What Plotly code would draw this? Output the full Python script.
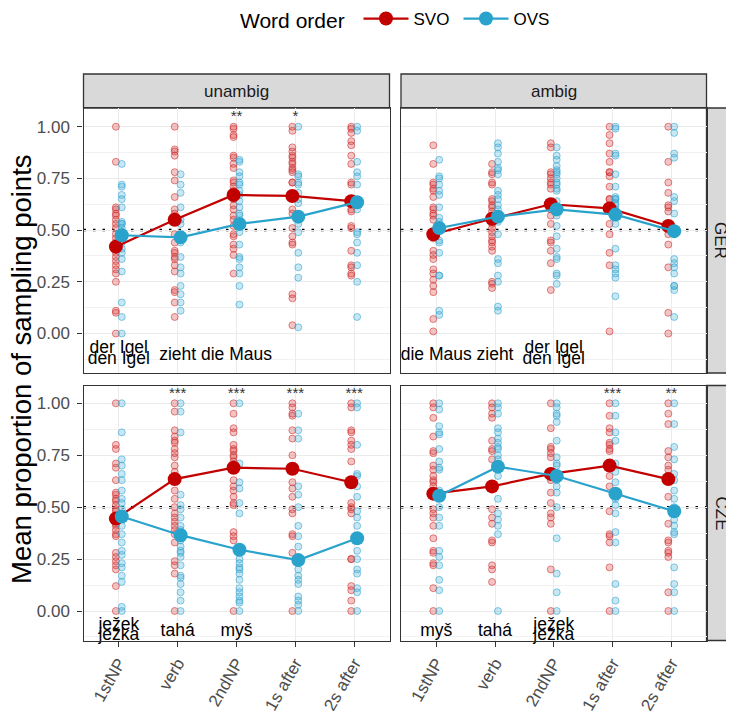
import plotly.graph_objects as go

# The page body has an 8px margin, so the figure is drawn 8px in from the window corner.
OFF = 8
FW, FH = 734 - OFF, 719 - OFF

categories = ["1stNP", "verb", "2ndNP", "1s after", "2s after"]
x_pos = [1, 2, 3, 4, 5]
orders = ["SVO", "OVS"]

# ---------- individual points (per category) ----------
ger_un_svo = [
    [1.0, 0.83, 0.61, 0.60, 0.58, 0.57, 0.55, 0.53, 0.51, 0.48, 0.46, 0.44, 0.39, 0.37, 0.35, 0.33, 0.31, 0.29, 0.25, 0.11, 0.10, 0.0],
    [1.0, 0.89, 0.88, 0.86, 0.78, 0.74, 0.66, 0.60, 0.58, 0.55, 0.48, 0.44, 0.40, 0.39, 0.37, 0.36, 0.33, 0.30, 0.21, 0.20, 0.15, 0.08],
    [1.0, 0.99, 0.96, 0.95, 0.86, 0.85, 0.82, 0.80, 0.74, 0.73, 0.71, 0.69, 0.65, 0.62, 0.60, 0.57, 0.55, 0.52, 0.48, 0.47, 0.43, 0.41, 0.38, 0.29],
    [1.0, 0.98, 0.90, 0.88, 0.86, 0.85, 0.83, 0.82, 0.80, 0.79, 0.78, 0.73, 0.73, 0.66, 0.60, 0.58, 0.51, 0.47, 0.44, 0.43, 0.19, 0.17, 0.04],
    [1.0, 0.99, 0.97, 0.93, 0.91, 0.86, 0.82, 0.73, 0.72, 0.63, 0.60, 0.59, 0.52, 0.51, 0.40, 0.33, 0.32, 0.29, 0.28],
]
ger_un_ovs = [
    [0.82, 0.72, 0.71, 0.67, 0.65, 0.61, 0.54, 0.53, 0.53, 0.51, 0.49, 0.44, 0.41, 0.39, 0.36, 0.30, 0.15, 0.08, 0.0],
    [0.77, 0.72, 0.68, 0.61, 0.55, 0.53, 0.46, 0.44, 0.37, 0.32, 0.29, 0.23, 0.19, 0.15, 0.11],
    [0.84, 0.83, 0.78, 0.76, 0.73, 0.72, 0.69, 0.67, 0.64, 0.61, 0.58, 0.57, 0.53, 0.49, 0.43, 0.37, 0.36, 0.32, 0.29, 0.23, 0.14],
    [1.0, 0.77, 0.76, 0.73, 0.72, 0.68, 0.65, 0.63, 0.57, 0.53, 0.49, 0.39, 0.32, 0.27, 0.03],
    [1.0, 0.98, 0.83, 0.78, 0.76, 0.72, 0.62, 0.60, 0.49, 0.48, 0.44, 0.39, 0.33, 0.25, 0.08],
]
ger_am_svo = [
    [0.91, 0.82, 0.73, 0.72, 0.70, 0.69, 0.66, 0.61, 0.60, 0.58, 0.57, 0.55, 0.48, 0.46, 0.40, 0.38, 0.36, 0.31, 0.29, 0.26, 0.23, 0.20, 0.07, 0.01],
    [0.82, 0.78, 0.77, 0.73, 0.72, 0.65, 0.64, 0.62, 0.61, 0.59, 0.57, 0.56, 0.54, 0.53, 0.51, 0.49, 0.47, 0.45, 0.44, 0.42, 0.40, 0.25, 0.24, 0.22],
    [0.92, 0.90, 0.78, 0.77, 0.75, 0.73, 0.72, 0.70, 0.62, 0.60, 0.57, 0.53, 0.45, 0.44, 0.40, 0.34, 0.21],
    [1.0, 0.96, 0.92, 0.87, 0.83, 0.78, 0.78, 0.76, 0.71, 0.65, 0.65, 0.61, 0.53, 0.48, 0.39, 0.33, 0.01],
    [1.0, 0.83, 0.73, 0.68, 0.62, 0.61, 0.59, 0.52, 0.48, 0.43, 0.32, 0.10, 0.0],
]
ger_am_ovs = [
    [0.84, 0.76, 0.75, 0.72, 0.69, 0.67, 0.61, 0.56, 0.54, 0.52, 0.45, 0.44, 0.39, 0.28, 0.28, 0.11, 0.09],
    [0.92, 0.90, 0.87, 0.83, 0.80, 0.79, 0.77, 0.69, 0.67, 0.65, 0.62, 0.60, 0.57, 0.54, 0.48, 0.36, 0.34, 0.28, 0.25, 0.13, 0.11],
    [0.90, 0.86, 0.84, 0.81, 0.79, 0.78, 0.77, 0.75, 0.73, 0.72, 0.70, 0.69, 0.64, 0.60, 0.57, 0.52, 0.47, 0.41, 0.37, 0.36, 0.29, 0.28, 0.24],
    [1.0, 0.99, 0.87, 0.86, 0.77, 0.71, 0.66, 0.65, 0.65, 0.63, 0.62, 0.60, 0.57, 0.53, 0.41, 0.33, 0.31, 0.29, 0.27, 0.18],
    [1.0, 0.97, 0.87, 0.85, 0.66, 0.64, 0.58, 0.50, 0.48, 0.36, 0.34, 0.32, 0.29, 0.23, 0.23, 0.21, 0.08],
]
cze_un_svo = [
    [1.0, 0.80, 0.78, 0.71, 0.69, 0.63, 0.57, 0.56, 0.54, 0.53, 0.51, 0.49, 0.48, 0.45, 0.42, 0.41, 0.39, 0.37, 0.36, 0.28, 0.26, 0.24, 0.22, 0.20, 0.12, 0.0],
    [1.0, 0.96, 0.87, 0.84, 0.82, 0.81, 0.78, 0.76, 0.74, 0.70, 0.67, 0.64, 0.58, 0.54, 0.50, 0.47, 0.45, 0.43, 0.41, 0.39, 0.37, 0.33, 0.24, 0.22, 0.18, 0.0],
    [1.0, 0.95, 0.88, 0.86, 0.80, 0.78, 0.77, 0.75, 0.74, 0.72, 0.69, 0.63, 0.60, 0.58, 0.55, 0.52, 0.51, 0.38, 0.36, 0.34, 0.0],
    [1.0, 0.98, 0.95, 0.94, 0.87, 0.83, 0.75, 0.68, 0.62, 0.59, 0.55, 0.49, 0.47, 0.37, 0.36, 0.28, 0.0],
    [1.0, 0.98, 0.87, 0.86, 0.82, 0.80, 0.78, 0.72, 0.62, 0.52, 0.50, 0.49, 0.47, 0.25, 0.25, 0.12, 0.10, 0.05, 0.0],
]
cze_un_ovs = [
    [1.0, 0.86, 0.73, 0.70, 0.66, 0.63, 0.58, 0.54, 0.52, 0.49, 0.45, 0.41, 0.37, 0.33, 0.29, 0.27, 0.23, 0.21, 0.17, 0.14, 0.02, 0.0],
    [1.0, 0.96, 0.86, 0.56, 0.51, 0.49, 0.45, 0.41, 0.39, 0.37, 0.34, 0.31, 0.29, 0.28, 0.26, 0.22, 0.17, 0.16, 0.13, 0.09, 0.05, 0.0],
    [1.0, 0.71, 0.62, 0.59, 0.52, 0.47, 0.29, 0.25, 0.23, 0.21, 0.20, 0.18, 0.15, 0.11, 0.09, 0.07, 0.05, 0.04, 0.0],
    [0.95, 0.87, 0.83, 0.60, 0.56, 0.50, 0.41, 0.36, 0.31, 0.25, 0.20, 0.17, 0.15, 0.13, 0.07, 0.05, 0.03, 0.0],
    [1.0, 0.98, 0.80, 0.66, 0.65, 0.60, 0.55, 0.48, 0.45, 0.41, 0.35, 0.29, 0.25, 0.20, 0.18, 0.11, 0.09, 0.0],
]
cze_am_svo = [
    [1.0, 0.98, 0.93, 0.84, 0.77, 0.76, 0.70, 0.68, 0.65, 0.63, 0.62, 0.60, 0.57, 0.49, 0.47, 0.45, 0.41, 0.35, 0.29, 0.28, 0.23, 0.22, 0.11, 0.0],
    [1.0, 0.98, 0.95, 0.93, 0.82, 0.78, 0.77, 0.73, 0.60, 0.49, 0.45, 0.42, 0.34, 0.33, 0.22, 0.20, 0.14],
    [1.0, 0.88, 0.79, 0.78, 0.76, 0.74, 0.66, 0.63, 0.57, 0.52, 0.47, 0.45, 0.42, 0.20, 0.0],
    [1.0, 0.94, 0.88, 0.86, 0.81, 0.80, 0.78, 0.77, 0.70, 0.65, 0.60, 0.48, 0.37, 0.36, 0.33, 0.21, 0.0],
    [1.0, 0.95, 0.90, 0.77, 0.74, 0.70, 0.68, 0.63, 0.55, 0.42, 0.34, 0.33, 0.29, 0.28, 0.26, 0.09, 0.0],
]
cze_am_ovs = [
    [1.0, 0.97, 0.89, 0.86, 0.85, 0.78, 0.72, 0.69, 0.68, 0.58, 0.55, 0.50, 0.45, 0.41, 0.29, 0.26, 0.22, 0.15, 0.10, 0.0],
    [1.0, 0.98, 0.95, 0.88, 0.86, 0.83, 0.81, 0.79, 0.78, 0.75, 0.73, 0.70, 0.65, 0.54, 0.47, 0.44, 0.41, 0.37, 0.0],
    [1.0, 0.98, 0.95, 0.94, 0.91, 0.82, 0.74, 0.71, 0.70, 0.63, 0.60, 0.57, 0.50, 0.35, 0.18, 0.09, 0.0],
    [1.0, 0.94, 0.86, 0.82, 0.71, 0.67, 0.62, 0.57, 0.54, 0.51, 0.47, 0.38, 0.33, 0.13, 0.05, 0.0],
    [1.0, 0.90, 0.79, 0.73, 0.66, 0.63, 0.58, 0.54, 0.50, 0.48, 0.44, 0.41, 0.38, 0.37, 0.21, 0.13, 0.09, 0.0],
]

# ---------- means ----------
ger_un_svo_mean = [0.42, 0.55, 0.67, 0.665, 0.64]
ger_un_ovs_mean = [0.475, 0.465, 0.53, 0.565, 0.635]
ger_am_svo_mean = [0.48, 0.555, 0.625, 0.605, 0.52]
ger_am_ovs_mean = [0.51, 0.565, 0.60, 0.575, 0.495]
cze_un_svo_mean = [0.445, 0.635, 0.69, 0.685, 0.62]
cze_un_ovs_mean = [0.455, 0.365, 0.295, 0.245, 0.35]
cze_am_svo_mean = [0.565, 0.60, 0.66, 0.70, 0.635]
cze_am_ovs_mean = [0.555, 0.695, 0.65, 0.565, 0.48]

# ---------- significance stars ----------
ger_un_stars = ["", "", "**", "*", ""]
ger_am_stars = ["", "", "", "", ""]
cze_un_stars = ["", "***", "***", "***", "***"]
cze_am_stars = ["", "", "", "***", "**"]
star_y = 1.045

# ---------- word labels ----------
ger_un_words = ["der Igel", "den Igel", "zieht", "die Maus"]
ger_un_word_x = [1, 1, 2, 3]
ger_un_word_y = [-0.072, -0.128, -0.105, -0.105]
ger_am_words = ["die Maus", "zieht", "der Igel", "den Igel"]
ger_am_word_x = [1, 2, 3, 3]
ger_am_word_y = [-0.105, -0.105, -0.072, -0.128]
cze_un_words = ["ježek", "ježka", "tahá", "myš"]
cze_un_word_x = [1, 1, 2, 3]
cze_un_word_y = [-0.068, -0.118, -0.100, -0.100]
cze_am_words = ["myš", "tahá", "ježek", "ježka"]
cze_am_word_x = [1, 2, 3, 3]
cze_am_word_y = [-0.100, -0.100, -0.068, -0.118]

FONT = "Liberation Sans, Arial, sans-serif"
RED, BLUE = "#C20000", "#2AA3CC"
RED_PT_FILL, RED_PT_LINE = "rgba(215,60,60,0.30)", "rgba(205,40,40,0.55)"
BLUE_PT_FILL, BLUE_PT_LINE = "rgba(70,175,215,0.30)", "rgba(45,160,205,0.55)"
DODGE = 0.05

panels = [
    ("x", "y", ger_un_svo, ger_un_ovs, ger_un_svo_mean, ger_un_ovs_mean, ger_un_stars, ger_un_words, ger_un_word_x, ger_un_word_y),
    ("x2", "y2", ger_am_svo, ger_am_ovs, ger_am_svo_mean, ger_am_ovs_mean, ger_am_stars, ger_am_words, ger_am_word_x, ger_am_word_y),
    ("x3", "y3", cze_un_svo, cze_un_ovs, cze_un_svo_mean, cze_un_ovs_mean, cze_un_stars, cze_un_words, cze_un_word_x, cze_un_word_y),
    ("x4", "y4", cze_am_svo, cze_am_ovs, cze_am_svo_mean, cze_am_ovs_mean, cze_am_stars, cze_am_words, cze_am_word_x, cze_am_word_y),
]

fig = go.Figure()
for i, (xa, ya, svo, ovs, svo_m, ovs_m, stars, words, wx, wy) in enumerate(panels):
    for pts, off, fc, lc in [(svo, -DODGE, RED_PT_FILL, RED_PT_LINE), (ovs, DODGE, BLUE_PT_FILL, BLUE_PT_LINE)]:
        xs, ys = [], []
        for k, vals in enumerate(pts):
            xs += [x_pos[k] + off] * len(vals)
            ys += vals
        fig.add_trace(go.Scatter(x=xs, y=ys, xaxis=xa, yaxis=ya, mode="markers",
                                 marker=dict(size=7, color=fc, line=dict(color=lc, width=1)),
                                 showlegend=False, hoverinfo="skip"))
    for name, m, off, col in [("SVO", svo_m, -DODGE, RED), ("OVS", ovs_m, DODGE, BLUE)]:
        fig.add_trace(go.Scatter(x=[p + off for p in x_pos], y=m, xaxis=xa, yaxis=ya,
                                 mode="lines+markers", name=name, legendgroup=name,
                                 line=dict(color=col, width=2.2),
                                 marker=dict(size=14, color=col),
                                 showlegend=(i == 0)))
    fig.add_trace(go.Scatter(x=x_pos, y=[star_y] * 5, text=stars, mode="text", xaxis=xa, yaxis=ya,
                             textfont=dict(size=15, color="#333333", family=FONT),
                             showlegend=False, hoverinfo="skip", cliponaxis=False))
    fig.add_trace(go.Scatter(x=wx, y=wy, text=words, mode="text", xaxis=xa, yaxis=ya,
                             textfont=dict(size=17.5, color="#000000", family=FONT),
                             showlegend=False, hoverinfo="skip", cliponaxis=False))

# ---------- geometry (window pixels) ----------
def px_x(x): return (x - OFF) / FW
def px_y(y): return 1 - (y - OFF) / FH

LX = (83.5, 389.5)
RX = (401.0, 706.5)
TY = (108.0, 373.0)
BY = (385.5, 640.5)
def xd(a): return [px_x(a[0]), px_x(a[1])]
def yd(a): return [px_y(a[1]), px_y(a[0])]

top_range = [-0.191, 1.0904]
bot_range = [-0.142, 1.0857]

def xax(dom, anchor, labels):
    return dict(domain=xd(dom), anchor=anchor, range=[0.4, 5.6], tickmode="array", automargin=False,
                tickvals=x_pos, ticktext=categories, showticklabels=labels,
                ticks="outside" if labels else "", ticklen=5, tickwidth=1.3, tickcolor="#333333",
                tickangle=-60, tickfont=dict(size=17, color="#4D4D4D", family=FONT),
                showgrid=True, gridcolor="#EBEBEB", gridwidth=1.3,
                showline=True, linecolor="#333333", linewidth=1.3, mirror=True, zeroline=False)

def yax(dom, anchor, rng, labels):
    return dict(domain=yd(dom), anchor=anchor, range=rng, tickmode="linear", tick0=0, dtick=0.25,
                automargin=False,
                tickformat=".2f", showticklabels=labels, ticks="outside" if labels else "",
                ticklen=5, tickwidth=1.3, tickcolor="#333333", ticklabelstandoff=4,
                tickfont=dict(size=17, color="#4D4D4D", family=FONT),
                showgrid=True, gridcolor="#EBEBEB", gridwidth=1.3,
                minor=dict(dtick=0.125, tick0=0, showgrid=True, gridcolor="#F2F2F2", gridwidth=0.7, ticks=""),
                showline=True, linecolor="#333333", linewidth=1.3, mirror=True, zeroline=False)

shapes = []
for xa, ya in [("x", "y"), ("x2", "y2"), ("x3", "y3"), ("x4", "y4")]:
    shapes.append(dict(type="line", xref=xa + " domain", yref=ya, x0=0, x1=1, y0=0.5, y1=0.5,
                       line=dict(color="#000000", width=2.5, dash="2.5px,7px"), layer="below"))
for dom in [LX, RX]:
    shapes.append(dict(type="rect", xref="paper", yref="paper", x0=px_x(dom[0]), x1=px_x(dom[1]),
                       y0=px_y(108), y1=px_y(74), fillcolor="#D9D9D9",
                       line=dict(color="#333333", width=1.3), layer="below"))
for dom in [TY, BY]:
    shapes.append(dict(type="rect", xref="paper", yref="paper", x0=px_x(706.5), x1=px_x(742),
                       y0=px_y(dom[1]), y1=px_y(dom[0]), fillcolor="#D9D9D9",
                       line=dict(color="#333333", width=1.3), layer="below"))

def ann(text, xpx, ypx, size, color, angle=0):
    return dict(text=text, x=px_x(xpx), y=px_y(ypx), xref="paper", yref="paper",
                xanchor="center", yanchor="middle", showarrow=False, textangle=angle,
                font=dict(size=size, color=color, family=FONT))

annotations = [
    ann("unambig", (LX[0] + LX[1]) / 2, 91, 17, "#1A1A1A"),
    ann("ambig", (RX[0] + RX[1]) / 2, 91, 17, "#1A1A1A"),
    ann("GER", 720.5, (TY[0] + TY[1]) / 2, 17, "#1A1A1A", 90),
    ann("CZE", 720.5, (BY[0] + BY[1]) / 2, 17, "#1A1A1A", 90),
    ann("Mean proportion of sampling points", 21, 369, 27.5, "#000000", -90),
]

fig.update_layout(
    width=FW, height=FH, margin=dict(l=0, r=0, t=0, b=0, autoexpand=False),
    paper_bgcolor="white", plot_bgcolor="white",
    font=dict(family=FONT),
    xaxis=xax(LX, "y", False), yaxis=yax(TY, "x", top_range, True),
    xaxis2=xax(RX, "y2", False), yaxis2=yax(TY, "x2", top_range, False),
    xaxis3=xax(LX, "y3", True), yaxis3=yax(BY, "x3", bot_range, True),
    xaxis4=xax(RX, "y4", True), yaxis4=yax(BY, "x4", bot_range, False),
    shapes=shapes, annotations=annotations,
    legend=dict(orientation="h", x=px_x(238), xanchor="left", y=px_y(1), yanchor="top",
                title=dict(text="Word order ", font=dict(size=21, color="#000000", family=FONT), side="left"),
                font=dict(size=17, color="#000000", family=FONT), bgcolor="rgba(0,0,0,0)",
                itemwidth=45, entrywidth=40, entrywidthmode="pixels"),
    showlegend=True,
)

fig.write_html("out.html")
